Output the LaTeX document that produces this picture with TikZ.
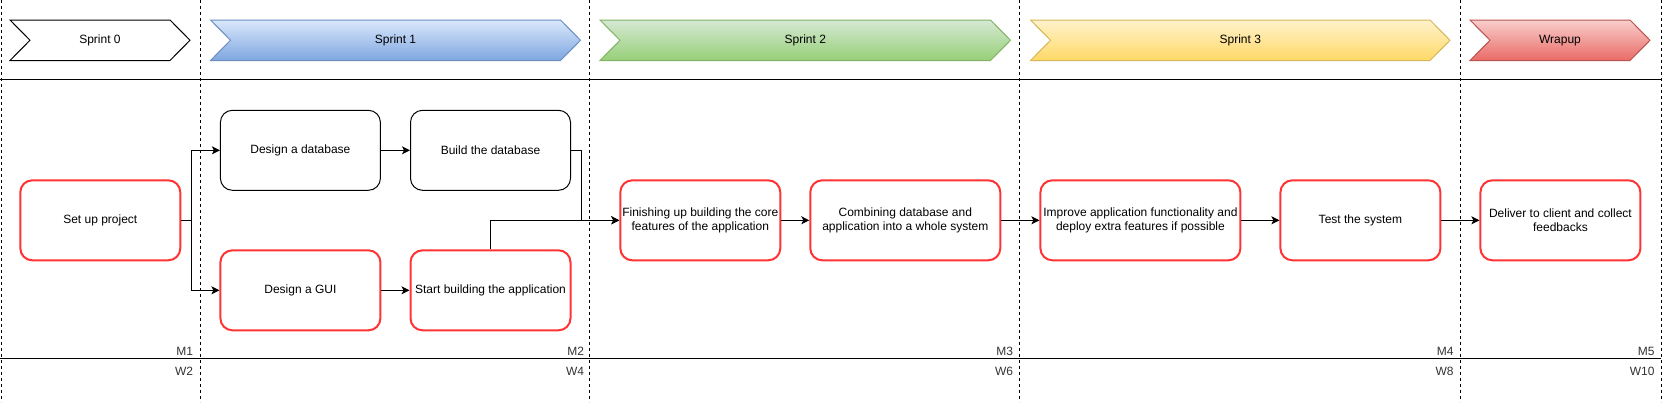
\documentclass[tikz,border=0pt]{standalone}
\usepackage{fontspec}
\setmainfont{Liberation Sans}
\usepackage{tikz}
\usetikzlibrary{arrows.meta}
\definecolor{taskred}{HTML}{FF3333}
\definecolor{blueTop}{HTML}{DAE8FC}
\definecolor{blueBot}{HTML}{7EA6E0}
\definecolor{blueLine}{HTML}{6C8EBF}
\definecolor{greenTop}{HTML}{D5E8D4}
\definecolor{greenBot}{HTML}{97D077}
\definecolor{greenLine}{HTML}{82B366}
\definecolor{yellowTop}{HTML}{FFF2CC}
\definecolor{yellowBot}{HTML}{FFD966}
\definecolor{yellowLine}{HTML}{D6B656}
\definecolor{redTop}{HTML}{F8CECC}
\definecolor{redBot}{HTML}{EA6B66}
\definecolor{redLine}{HTML}{B85450}

\begin{document}
\begin{tikzpicture}[x=1pt,y=-1pt,line width=1pt,
    every node/.style={font=\fontsize{12}{14}\selectfont},
    task/.style={draw=taskred,line width=2pt,rounded corners=12pt,minimum width=160pt,minimum height=80pt,align=center,inner sep=0pt},
    plaintask/.style={task,draw=black,line width=1pt},
    arr/.style={-{Stealth[length=8pt,width=8pt,inset=2pt]}},
    sep/.style={dash pattern=on 3pt off 3pt},
    milestone/.style={anchor=east,inner sep=0pt,text=black!80}]
      \useasboundingbox (0,0) rectangle (1664,402);
      % sprint chevrons
      \foreach \a/\b/\f/\g/\d/\t [count=\i] in {10/190/white/white/black/Sprint 0,
          210.5/580.5/blueTop/blueBot/blueLine/Sprint 1,
          600/1010.5/greenTop/greenBot/greenLine/Sprint 2,
          1030.5/1450/yellowTop/yellowBot/yellowLine/Sprint 3,
          1470/1650/redTop/redBot/redLine/Wrapup}{
        \path[draw=\d,top color=\f,bottom color=\g] (\a,20) -- (\b-20,20) -- (\b,40.25) -- (\b-20,60.5) -- (\a,60.5) -- (\a+20,40.25) -- cycle;
        \node (sprint\i) at ({(\a+\b)/2},40.25) {\t};
      }
      % grid
      \foreach \x in {1,200,589.5,1019.5,1460.5,1661} \draw[sep] (\x,0) -- (\x,402);
      \draw (0,79.5) -- (1661,79.5);
      \draw (0,358.5) -- (1661,358.5);
      \foreach \x/\m/\w in {193.5/M1/W2,584.5/M2/W4,1013.5/M3/W6,1454/M4/W8,1655/M5/W10}{
        \node[milestone] (\m) at (\x,351) {\m};
        \node[milestone] (\w) at (\x,371) {\w};
      }
      % tasks
      \node[task] (setup) at (100.3,220.3) {Set up project};
      \node[plaintask] (db) at (300.4,150.3) {Design a database};
      \node[plaintask] (builddb) at (490.5,150.3) {Build the database};
      \node[task] (gui) at (300.4,290.3) {Design a GUI};
      \node[task] (app) at (490.5,290.3) {Start building the application};
      \node[task] (core) at (700.3,220.3) {Finishing up building the core\\features of the application};
      \node[task,minimum width=190pt] (merge) at (905.3,220.3) {Combining database and\\application into a whole system};
      \node[task,minimum width=200pt] (improve) at (1140.4,220.3) {Improve application functionality and\\deploy extra features if possible};
      \node[task] (test) at (1360.4,220.3) {Test the system};
      \node[task] (deliver) at (1560.4,220.3) {Deliver to client and collect\\feedbacks};
      % arrows
      \draw[arr] (setup.east) -- ++(10,0) |- (db.west);
      \draw[arr] (setup.east) -- ++(10,0) |- (gui.west);
      \draw[arr] (db) -- (builddb);
      \draw[arr] (gui) -- (app);
      \draw[arr] (builddb.east) -- ++(10,0) |- (core.west);
      \draw[arr] (app.north) |- (core.west);
      \draw[arr] (core) -- (merge);
      \draw[arr] (merge) -- (improve);
      \draw[arr] (improve) -- (test);
      \draw[arr] (test) -- (deliver);
\end{tikzpicture}
\end{document}
